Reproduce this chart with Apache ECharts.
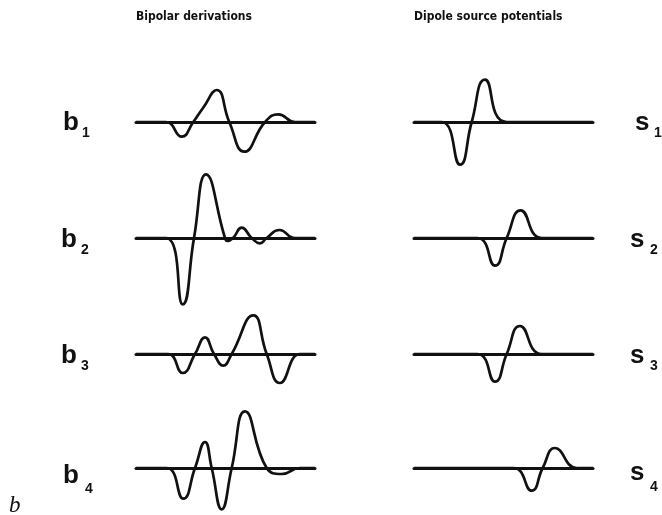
<!DOCTYPE html>
<html>
<head>
<meta charset="utf-8">
<script src="https://cdn.jsdelivr.net/npm/echarts@6/dist/echarts.min.js"></script>
<style>
  html, body { margin: 0; padding: 0; background: #fff; }
  #chart { width: 662px; height: 515px; }
</style>
</head>
<body>
<div id="chart"></div>
<script>
// Column headings
const headings = ['Bipolar derivations', 'Dipole source potentials'];
const panelLetter = 'b';

// Trace labels: letter + subscript
const bipolarNames = [['b', '1'], ['b', '2'], ['b', '3'], ['b', '4']];
const sourceNames = [['s', '1'], ['s', '2'], ['s', '3'], ['s', '4']];

// Bipolar derivations: [time, amplitude] at onsets, peaks and zero crossings
const b1 = [[0, 0], [30, 0], [45.7, -14.7], [57.3, 0], [67, 14], [80.7, 32], [93.3, 0], [108.3, -29.7], [129, 0], [142.3, 7.7], [159, 0], [179, 0]];
const b2 = [[0, 0], [30, 0], [46.7, -66.3], [58, 0], [70, 63.7], [89, 0], [91.3, -3], [97, 0], [105.7, 10.3], [115.7, 0], [124, -5.3], [130.7, 0], [143.3, 8], [159, 0], [179, 0]];
const b3 = [[0, 0], [32, 0], [46.7, -19], [59, 0], [69, 16.7], [78, 0], [87.3, -11.7], [95.7, 0], [117.3, 38.7], [130.7, 0], [144, -29], [164, 0], [179, 0]];
const b4 = [[0, 0], [30.7, 0], [47.3, -30.7], [59, 0], [69, 26], [75.7, 0], [85.7, -41.3], [95.7, 0], [109, 56.7], [130.7, 0], [145.7, -6], [164, 0], [179, 0]];

// Dipole source potentials: [time, amplitude]
const s1 = [[0, 0], [27.7, 0], [46, -42.7], [57.7, 0], [71, 42.3], [92.7, 0], [179, 0]];
const s2 = [[0, 0], [63.3, 0], [81, -27.7], [92.7, 0], [106.7, 27.7], [127.7, 0], [179, 0]];
const s3 = [[0, 0], [63.3, 0], [81, -27.7], [92.7, 0], [106, 28], [127.7, 0], [179, 0]];
const s4 = [[0, 0], [99.3, 0], [117.7, -22.7], [128.7, 0], [141, 20], [162.7, 0], [179, 0]];

const bipolarTraces = [b1, b2, b3, b4];
const sourceTraces = [s1, s2, s3, s4];

// Layout: every trace uses the same scale (1 unit = 1 px)
const rowBase = [122, 238, 354, 468];
const colLeft = [136, 414];
const traceLen = 179;
const halfRange = 44;
const ink = '#111';

const grids = [], xAxes = [], yAxes = [], series = [];
[bipolarTraces, sourceTraces].forEach((traces, col) => {
  traces.forEach((trace, row) => {
    const idx = grids.length;
    grids.push({ left: colLeft[col], top: rowBase[row] - halfRange, width: traceLen, height: halfRange * 2 });
    xAxes.push({
      type: 'value', gridIndex: idx, min: 0, max: traceLen,
      axisLine: { show: true, onZero: true, lineStyle: { color: ink, width: 3 } },
      axisTick: { show: false }, axisLabel: { show: false }, splitLine: { show: false }
    });
    yAxes.push({
      type: 'value', gridIndex: idx, min: -halfRange, max: halfRange,
      axisLine: { show: false }, axisTick: { show: false }, axisLabel: { show: false }, splitLine: { show: false }
    });
    series.push({
      type: 'line', xAxisIndex: idx, yAxisIndex: idx, data: trace,
      smooth: 0.5, symbol: 'none', clip: false,
      lineStyle: { color: ink, width: 2.7 }, silent: true, animation: false
    });
  });
});

// Label positions: [letter x, letter baseline, subscript x, subscript baseline]
const bLabelPos = [[63, 130, 82, 137], [61, 247, 81, 254], [61, 363, 81, 370], [63, 483, 85, 493]];
const sLabelPos = [[635, 130, 654, 137], [630, 247, 650, 254], [630, 363, 650, 370], [630, 480, 650, 491]];

const graphics = [];
function addLabel(name, pos) {
  graphics.push({ type: 'text', left: pos[0], top: pos[1] - 20, style: { text: name[0], font: 'bold 26px "Liberation Sans", Arial, sans-serif', fill: ink } });
  graphics.push({ type: 'text', left: pos[2], top: pos[3] - 11, style: { text: name[1], font: 'bold 14px "Liberation Sans", Arial, sans-serif', fill: ink } });
}
bipolarNames.forEach((n, i) => addLabel(n, bLabelPos[i]));
sourceNames.forEach((n, i) => addLabel(n, sLabelPos[i]));

headings.forEach((h, i) => {
  graphics.push({ type: 'text', left: colLeft[i], top: 11, style: { text: h, font: 'bold 12px "DejaVu Sans Condensed", "Liberation Sans", sans-serif', fill: ink } });
});
graphics.push({ type: 'text', left: 9, top: 494, style: { text: panelLetter, font: 'italic 23px "Liberation Serif", "Times New Roman", serif', fill: ink } });

const chart = echarts.init(document.getElementById('chart'), null, { renderer: 'canvas' });
chart.setOption({
  animation: false,
  backgroundColor: '#fff',
  grid: grids,
  xAxis: xAxes,
  yAxis: yAxes,
  series: series,
  graphic: graphics
});
</script>
</body>
</html>
